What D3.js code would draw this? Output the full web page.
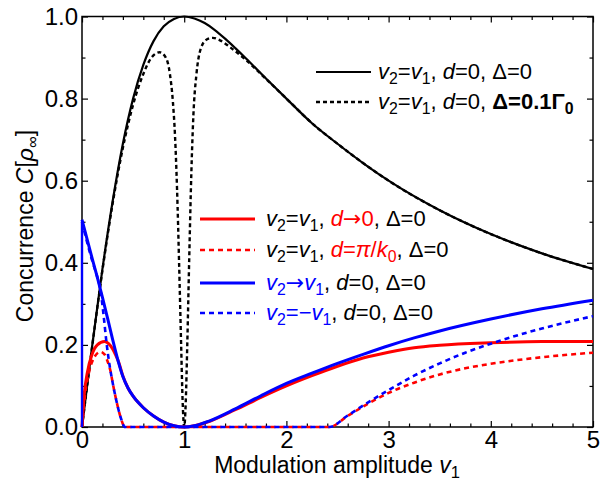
<!DOCTYPE html>
<html>
<head>
<meta charset="utf-8">
<script src="https://cdn.jsdelivr.net/npm/d3@7"></script>
<style>
  body { margin: 0; background: #fff; }
  svg text { font-family: "Liberation Sans", Arial, sans-serif; }
</style>
</head>
<body>
<svg width="600" height="481"></svg>
<script>
// ---- data (x = v1, y = concurrence) ----
var blackSolid = [[0,0],[0.05,0.1],[0.1,0.198],[0.2,0.385],[0.3,0.55],[0.4,0.69],[0.5,0.8],[0.6,0.882],[0.7,0.94],[0.8,0.976],[0.9,0.994],[1,1],[1.1,0.995],[1.2,0.984],[1.3,0.967],[1.4,0.946],[1.5,0.923],[1.6,0.899],[1.8,0.849],[2,0.8],[2.25,0.74],[2.5,0.69],[2.75,0.643],[3,0.6],[3.5,0.528],[4,0.47],[4.5,0.423],[5,0.385]];
var blackDashed = [[0,0],[0.1,0.197],[0.2,0.382],[0.3,0.545],[0.4,0.68],[0.5,0.785],[0.6,0.86],[0.68,0.9],[0.76,0.913],[0.82,0.9],[0.86,0.86],[0.89,0.79],[0.91,0.71],[0.93,0.58],[0.95,0.4],[0.97,0.2],[0.985,0.06],[1,0],[1.015,0.06],[1.03,0.2],[1.05,0.42],[1.07,0.62],[1.09,0.76],[1.12,0.86],[1.16,0.92],[1.22,0.944],[1.28,0.948],[1.35,0.942],[1.45,0.925],[1.6,0.895],[1.8,0.848],[2,0.8],[2.25,0.74],[2.5,0.69],[2.75,0.643],[3,0.6],[3.5,0.528],[4,0.47],[4.5,0.423],[5,0.385]];
var redSolid = [[0,0],[0.02,0.075],[0.05,0.13],[0.1,0.178],[0.15,0.2],[0.22,0.208],[0.26,0.203],[0.3,0.19],[0.33,0.175],[0.36,0.157],[0.4,0.124],[0.45,0.095],[0.5,0.075],[0.6,0.047],[0.7,0.027],[0.8,0.012],[0.9,0.003],[1,0],[1.1,0.003],[1.25,0.014],[1.5,0.042],[1.75,0.072],[2,0.1],[2.25,0.125],[2.5,0.148],[2.75,0.168],[3,0.182],[3.25,0.193],[3.5,0.199],[4,0.205],[4.5,0.208],[5,0.208]];
var redDashed = [[0,0],[0.03,0.08],[0.07,0.135],[0.12,0.17],[0.18,0.183],[0.22,0.177],[0.25,0.16],[0.28,0.135],[0.3,0.108],[0.34,0.06],[0.38,0.022],[0.42,0],[1,0],[2,0],[2.42,0],[2.6,0.027],[2.8,0.057],[3,0.083],[3.25,0.108],[3.5,0.128],[3.75,0.143],[4,0.154],[4.5,0.17],[5,0.181]];
var blueJump = [[0,0],[0,0.5]];
var blueSolid = [[0,0.505],[0.1,0.41],[0.16,0.355],[0.2,0.316],[0.25,0.265],[0.3,0.213],[0.33,0.183],[0.36,0.155],[0.4,0.123],[0.45,0.095],[0.5,0.075],[0.6,0.047],[0.7,0.027],[0.8,0.012],[0.9,0.003],[1,0],[1.1,0.003],[1.25,0.015],[1.5,0.044],[1.75,0.076],[2,0.106],[2.25,0.131],[2.5,0.155],[2.75,0.177],[3,0.198],[3.25,0.217],[3.5,0.234],[4,0.263],[4.5,0.288],[5,0.309]];
var blueDashed = [[0,0.5],[0.05,0.45],[0.1,0.405],[0.15,0.365],[0.18,0.335],[0.21,0.275],[0.24,0.205],[0.27,0.15],[0.3,0.108],[0.34,0.06],[0.38,0.022],[0.42,0],[1,0],[2,0],[2.42,0],[2.6,0.028],[2.8,0.06],[3,0.09],[3.25,0.125],[3.5,0.155],[3.75,0.181],[4,0.203],[4.5,0.24],[5,0.27]];

var xTicks = [0, 1, 2, 3, 4, 5];
var xMinor = [0.2,0.4,0.6,0.8,1.2,1.4,1.6,1.8,2.2,2.4,2.6,2.8,3.2,3.4,3.6,3.8,4.2,4.4,4.6,4.8];
var yTicks = [0, 0.2, 0.4, 0.6, 0.8, 1.0];
var yMinor = [0.1, 0.3, 0.5, 0.7, 0.9];

var svg = d3.select('svg');

var x = d3.scaleLinear().domain([0, 5]).range([82, 593]);
var y = d3.scaleLinear().domain([0, 1]).range([427, 16.5]);

var FS = 24;

// axes, ticks pointing inward on all four sides
function drawAxis(axis, tr, vals, size, labels) {
    var g = svg.append('g')
        .attr('transform', tr)
        .call(axis.tickValues(vals).tickSize(size).tickPadding(6)
            .tickFormat(labels ? labels : ''));
    g.select('.domain').remove();
    g.selectAll('line').attr('stroke', '#000').attr('stroke-width', 1.2);
    g.selectAll('text').attr('fill', '#000').style('font-size', FS + 'px')
        .style('font-family', '"Liberation Sans", Arial, sans-serif');
    return g;
}

var bx = drawAxis(d3.axisBottom(x), 'translate(0,427)', xTicks, -6, d3.format('d'));
bx.selectAll('text').attr('y', 4);
drawAxis(d3.axisBottom(x), 'translate(0,427)', xMinor, -3.5);
drawAxis(d3.axisTop(x), 'translate(0,16.5)', xTicks, -6);
drawAxis(d3.axisTop(x), 'translate(0,16.5)', xMinor, -3.5);

var ly = drawAxis(d3.axisLeft(y), 'translate(82,0)', yTicks, -6, d3.format('.1f'));
ly.selectAll('text').attr('x', -4);
drawAxis(d3.axisLeft(y), 'translate(82,0)', yMinor, -3.5);
drawAxis(d3.axisRight(y), 'translate(593,0)', yTicks, -6);
drawAxis(d3.axisRight(y), 'translate(593,0)', yMinor, -3.5);

svg.append('rect')
    .attr('x', 82).attr('y', 16.5)
    .attr('width', 593 - 82).attr('height', 427 - 16.5)
    .attr('fill', 'none').attr('stroke', '#000').attr('stroke-width', 1.5);

// curves
var line = d3.line()
    .x(d => x(d[0]))
    .y(d => y(d[1]))
    .curve(d3.curveMonotoneX);
var straight = d3.line()
    .x(d => x(d[0]))
    .y(d => y(d[1]));

var series = [
    {data: blackSolid, color: '#000', w: 2.2, dash: null},
    {data: blackDashed, color: '#000', w: 2.4, dash: '4,3'},
    {data: redSolid, color: '#ff0000', w: 3, dash: null},
    {data: redDashed, color: '#ff0000', w: 2.6, dash: '5,4'},
    {data: blueJump, color: '#0000ff', w: 2.4, dash: null, lin: true},
    {data: blueSolid, color: '#0000ff', w: 3, dash: null},
    {data: blueDashed, color: '#0000ff', w: 2.6, dash: '5,4'}
];

series.forEach(function(s) {
    svg.append('path')
        .datum(s.data)
        .attr('d', s.lin ? straight : line)
        .attr('fill', 'none')
        .attr('stroke', s.color)
        .attr('stroke-width', s.w)
        .attr('stroke-dasharray', s.dash);
});

// rich text helper: tokens [text, flags, color]
// flags: i italic, s subscript, b bold, a arrow glyph (DejaVu has a full-size one)
function rich(sel, tokens) {
    var inSub = false;
    tokens.forEach(function(t) {
        var flags = t[1] || '';
        var sp = sel.append('tspan').text(t[0]);
        if (flags.indexOf('i') >= 0) sp.style('font-style', 'italic');
        if (flags.indexOf('b') >= 0) sp.style('font-weight', 'bold');
        if (flags.indexOf('a') >= 0) sp.style('font-family', '"DejaVu Sans", sans-serif');
        if (t[2]) sp.attr('fill', t[2]);
        var sub = flags.indexOf('s') >= 0;
        if (sub && !inSub) sp.attr('dy', 5);
        if (!sub && inSub) sp.attr('dy', -5);
        if (sub) sp.style('font-size', '0.72em');
        inSub = sub;
    });
}

var R = '#ff0000', B = '#0000ff';
var legend = [
    {x0: 316, y0: 72, dash: null, color: '#000', w: 2.2, dx: 62,
     tokens: [['v','i'],['2','s'],['='],['v','i'],['1','s'],[', '],['d','i'],['=0, Δ=0']]},
    {x0: 316, y0: 102, dash: '4,3', color: '#000', w: 2.4, dx: 62,
     tokens: [['v','i'],['2','s'],['='],['v','i'],['1','s'],[', '],['d','i'],['=0, '],['Δ=0.1Γ','b'],['0','bs']]},
    {x0: 200, y0: 219, dash: null, color: R, w: 3, dx: 66,
     tokens: [['v','i'],['2','s'],['='],['v','i'],['1','s'],[', '],['d','i',R],['→','a',R],['0','',R],[', Δ=0']]},
    {x0: 200, y0: 250, dash: '5,4', color: R, w: 2.6, dx: 66,
     tokens: [['v','i'],['2','s'],['='],['v','i'],['1','s'],[', '],['d','i',R],['=','',R],['π','i',R],['/','',R],['k','i',R],['0','s',R],[', Δ=0']]},
    {x0: 200, y0: 283, dash: null, color: B, w: 3, dx: 66,
     tokens: [['v','i',B],['2','s',B],['→','a',B],['v','i',B],['1','s',B],[', '],['d','i'],['=0, Δ=0']]},
    {x0: 200, y0: 313, dash: '5,4', color: B, w: 2.6, dx: 66,
     tokens: [['v','i',B],['2','s',B],['=−','',B],['v','i',B],['1','s',B],[', '],['d','i'],['=0, Δ=0']]}
];

legend.forEach(function(l) {
    svg.append('line')
        .attr('x1', l.x0).attr('x2', l.x0 + 55)
        .attr('y1', l.y0).attr('y2', l.y0)
        .attr('stroke', l.color).attr('stroke-width', l.w)
        .attr('stroke-dasharray', l.dash);
    var t = svg.append('text')
        .attr('x', l.x0 + l.dx).attr('y', l.y0 + 7)
        .style('font-size', '22px').attr('fill', '#000');
    rich(t, l.tokens);
});

// axis titles
var xl = svg.append('text')
    .attr('x', 337).attr('y', 473)
    .attr('text-anchor', 'middle')
    .style('font-size', '23px');
rich(xl, [['Modulation amplitude '], ['v','i'], ['1','s']]);

var yl = svg.append('text')
    .attr('transform', 'translate(33,226)rotate(-90)')
    .attr('text-anchor', 'middle')
    .style('font-size', '23px');
rich(yl, [['Concurrence '], ['C','i'], ['['], ['ρ','i'], ['∞','s'], [']']]);
</script>
</body>
</html>
